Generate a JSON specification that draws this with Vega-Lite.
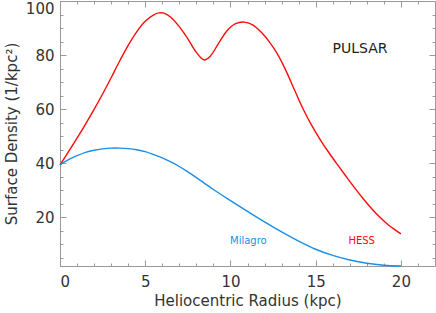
{
  "$schema": "https://vega.github.io/schema/vega-lite/v6.json",
  "width": 375,
  "height": 265,
  "autosize": {"type": "none"},
  "padding": {"left": 60, "top": 1, "right": 1, "bottom": 47},
  "background": "white",
  "config": {
    "view": {"stroke": null},
    "font": "DejaVu Sans",
    "axis": {"grid": false, "domainColor": "#999999", "tickColor": "#999999", "labelColor": "#333333", "titleColor": "#333333", "labelFont": "DejaVu Sans", "titleFont": "DejaVu Sans", "labelFontSize": 15, "titleFontSize": 15, "titleFontWeight": "normal"}
  },
  "datasets": {
    "curves": [
      {"series": "HESS", "r": 0, "d": 39.4},
      {"series": "HESS", "r": 0.5, "d": 44.3},
      {"series": "HESS", "r": 1, "d": 49.3},
      {"series": "HESS", "r": 1.5, "d": 54.5},
      {"series": "HESS", "r": 2, "d": 59.9},
      {"series": "HESS", "r": 2.5, "d": 65.6},
      {"series": "HESS", "r": 3, "d": 71.6},
      {"series": "HESS", "r": 3.5, "d": 77.8},
      {"series": "HESS", "r": 4, "d": 83.6},
      {"series": "HESS", "r": 4.5, "d": 88.6},
      {"series": "HESS", "r": 5, "d": 92.5},
      {"series": "HESS", "r": 5.5, "d": 94.9},
      {"series": "HESS", "r": 5.8, "d": 95.6},
      {"series": "HESS", "r": 6.1, "d": 95.5},
      {"series": "HESS", "r": 6.5, "d": 94},
      {"series": "HESS", "r": 7, "d": 90.5},
      {"series": "HESS", "r": 7.5, "d": 86},
      {"series": "HESS", "r": 8, "d": 81},
      {"series": "HESS", "r": 8.45, "d": 78.2},
      {"series": "HESS", "r": 8.8, "d": 79.5},
      {"series": "HESS", "r": 9.3, "d": 84.3},
      {"series": "HESS", "r": 9.8, "d": 89},
      {"series": "HESS", "r": 10.3, "d": 91.6},
      {"series": "HESS", "r": 10.8, "d": 92.2},
      {"series": "HESS", "r": 11.3, "d": 91.2},
      {"series": "HESS", "r": 11.8, "d": 88.5},
      {"series": "HESS", "r": 12.3, "d": 84.7},
      {"series": "HESS", "r": 12.7, "d": 81},
      {"series": "HESS", "r": 13.2, "d": 75},
      {"series": "HESS", "r": 13.8, "d": 66.5},
      {"series": "HESS", "r": 14.3, "d": 59.6},
      {"series": "HESS", "r": 14.8, "d": 53.6},
      {"series": "HESS", "r": 15.3, "d": 48.4},
      {"series": "HESS", "r": 15.8, "d": 43.7},
      {"series": "HESS", "r": 16.3, "d": 39.3},
      {"series": "HESS", "r": 16.8, "d": 35},
      {"series": "HESS", "r": 17.3, "d": 30.8},
      {"series": "HESS", "r": 17.8, "d": 26.8},
      {"series": "HESS", "r": 18.3, "d": 23.1},
      {"series": "HESS", "r": 18.8, "d": 19.8},
      {"series": "HESS", "r": 19.3, "d": 17},
      {"series": "HESS", "r": 19.7, "d": 15.2},
      {"series": "HESS", "r": 20, "d": 13.9},
      {"series": "Milagro", "r": 0, "d": 39.4},
      {"series": "Milagro", "r": 0.5, "d": 41.3},
      {"series": "Milagro", "r": 1, "d": 42.8},
      {"series": "Milagro", "r": 1.5, "d": 44},
      {"series": "Milagro", "r": 2, "d": 44.8},
      {"series": "Milagro", "r": 2.5, "d": 45.3},
      {"series": "Milagro", "r": 3, "d": 45.6},
      {"series": "Milagro", "r": 3.5, "d": 45.6},
      {"series": "Milagro", "r": 4, "d": 45.4},
      {"series": "Milagro", "r": 4.5, "d": 45},
      {"series": "Milagro", "r": 5, "d": 44.3},
      {"series": "Milagro", "r": 5.5, "d": 43.2},
      {"series": "Milagro", "r": 6, "d": 42},
      {"series": "Milagro", "r": 6.5, "d": 40.5},
      {"series": "Milagro", "r": 7, "d": 38.8},
      {"series": "Milagro", "r": 7.5, "d": 36.8},
      {"series": "Milagro", "r": 8, "d": 34.7},
      {"series": "Milagro", "r": 9, "d": 30.3},
      {"series": "Milagro", "r": 10, "d": 26.2},
      {"series": "Milagro", "r": 11, "d": 22.2},
      {"series": "Milagro", "r": 12, "d": 18.3},
      {"series": "Milagro", "r": 13, "d": 14.6},
      {"series": "Milagro", "r": 14, "d": 11.2},
      {"series": "Milagro", "r": 15, "d": 8.2},
      {"series": "Milagro", "r": 16, "d": 5.9},
      {"series": "Milagro", "r": 17, "d": 4.2},
      {"series": "Milagro", "r": 18, "d": 3},
      {"series": "Milagro", "r": 19, "d": 2.3},
      {"series": "Milagro", "r": 20, "d": 2}
    ],
    "labels": [
      {"series": "PULSAR", "r": 17.6, "d": 82.3, "text": "PULSAR"},
      {"series": "Milagro", "r": 11.05, "d": 11.2, "text": "Milagro"},
      {"series": "HESS", "r": 17.7, "d": 11.2, "text": "HESS"}
    ]
  },
  "resolve": {"axis": {"x": "independent", "y": "independent"}},
  "layer": [
    {
      "data": {"name": "curves"},
      "transform": [{"filter": "datum.series === 'HESS'"}],
      "mark": {"type": "line", "color": "#ff0a0a", "strokeWidth": 1.4, "interpolate": "catmull-rom"},
      "encoding": {
        "x": {"field": "r", "type": "quantitative", "scale": {"domain": [0, 22], "nice": false, "zero": false},
          "axis": {"orient": "bottom", "values": [0, 5, 10, 15, 20], "tickSize": -6, "labelPadding": 14, "title": "Heliocentric Radius (kpc)", "titlePadding": 4}},
        "y": {"field": "d", "type": "quantitative", "scale": {"domain": [2, 100], "nice": false, "zero": false},
          "axis": {"orient": "left", "values": [20, 40, 60, 80, 100], "tickSize": -6, "labelPadding": 12, "labelFlush": true, "title": "Surface Density (1/kpc²)", "titlePadding": 6}}
      }
    },
    {
      "data": {"name": "curves"},
      "transform": [{"filter": "datum.series === 'Milagro'"}],
      "mark": {"type": "line", "color": "#1a8fe6", "strokeWidth": 1.4, "interpolate": "catmull-rom"},
      "encoding": {
        "x": {"field": "r", "type": "quantitative",
          "axis": {"orient": "bottom", "values": [1, 2, 3, 4, 6, 7, 8, 9, 11, 12, 13, 14, 16, 17, 18, 19, 21], "tickSize": -3, "labels": false, "domain": false, "title": null}},
        "y": {"field": "d", "type": "quantitative",
          "axis": {"orient": "left", "values": [5, 10, 15, 25, 30, 35, 45, 50, 55, 65, 70, 75, 85, 90, 95], "tickSize": -3, "labels": false, "domain": false, "title": null}}
      }
    },
    {
      "data": {"name": "labels"},
      "transform": [{"filter": "datum.series === 'PULSAR'"}],
      "mark": {"type": "text", "fontSize": 14, "color": "#222222", "font": "DejaVu Sans"},
      "encoding": {
        "x": {"field": "r", "type": "quantitative",
          "axis": {"orient": "top", "values": [0, 5, 10, 15, 20], "tickSize": -6, "labels": false, "title": null}},
        "y": {"field": "d", "type": "quantitative",
          "axis": {"orient": "right", "values": [20, 40, 60, 80, 100], "tickSize": -6, "labels": false, "title": null}},
        "text": {"field": "text"}
      }
    },
    {
      "data": {"name": "labels"},
      "transform": [{"filter": "datum.series === 'Milagro'"}],
      "mark": {"type": "text", "fontSize": 10, "color": "#1a8fe6", "font": "DejaVu Sans"},
      "encoding": {
        "x": {"field": "r", "type": "quantitative",
          "axis": {"orient": "top", "values": [1, 2, 3, 4, 6, 7, 8, 9, 11, 12, 13, 14, 16, 17, 18, 19, 21], "tickSize": -3, "labels": false, "domain": false, "title": null}},
        "y": {"field": "d", "type": "quantitative",
          "axis": {"orient": "right", "values": [5, 10, 15, 25, 30, 35, 45, 50, 55, 65, 70, 75, 85, 90, 95], "tickSize": -3, "labels": false, "domain": false, "title": null}},
        "text": {"field": "text"}
      }
    },
    {
      "data": {"name": "labels"},
      "transform": [{"filter": "datum.series === 'HESS'"}],
      "mark": {"type": "text", "fontSize": 10, "color": "#ff0a0a", "font": "DejaVu Sans"},
      "encoding": {
        "x": {"field": "r", "type": "quantitative", "axis": null},
        "y": {"field": "d", "type": "quantitative", "axis": null},
        "text": {"field": "text"}
      }
    }
  ]
}
